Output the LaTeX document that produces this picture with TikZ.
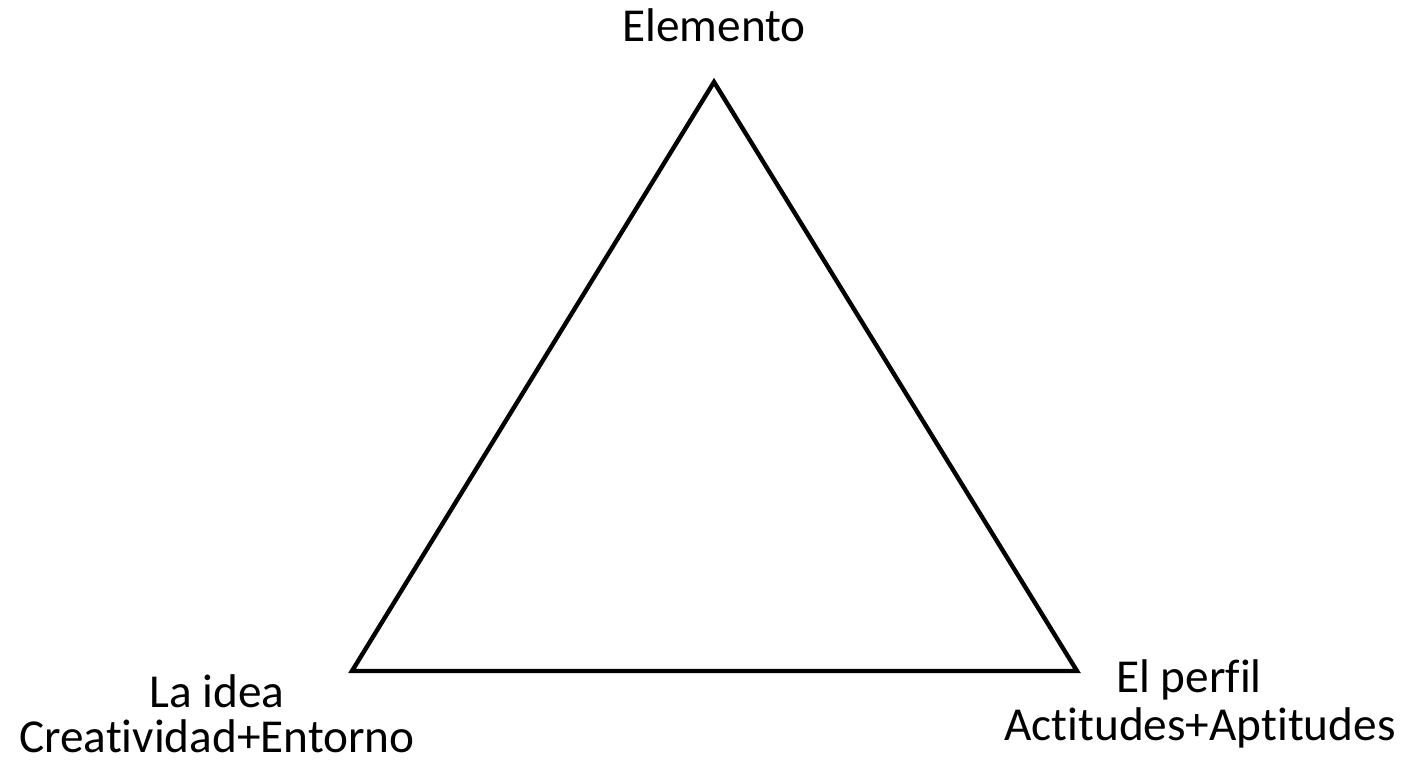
\documentclass[tikz,border=0pt]{standalone}
\usepackage{fontspec}
\setmainfont{Carlito}[Ligatures={NoCommon}]
\usepackage{xcolor}
\colorlet{edge}{black}

\begin{document}
\begin{tikzpicture}[x=0.02cm,y=-0.02cm,
  label/.style={anchor=base,inner sep=0pt,font=\fontsize{26.9}{30}\selectfont},
  side/.style={color=edge,line width=2.5pt}]

  \useasboundingbox (0,0) rectangle (1412,763);

  \coordinate (top_n) at (714,82);
  \coordinate (left_n) at (352,671);
  \coordinate (right_n) at (1077,671);

  \draw[side] (top_n) -- (right_n) -- (left_n) -- cycle;

  \node[label] (elemento) at (714,42) {Elemento};

%  Left corner
  \node[label] (idea) at (217,707) {La idea};
  \node[label] (idea_sub) at (217,752) {Creatividad+Entorno};

%  Right corner
  \node[label] (perfil) at (1189,692) {El perfil};
  \node[label] (perfil_sub) at (1200,740) {Actitudes+Aptitudes};

\end{tikzpicture}
\end{document}
